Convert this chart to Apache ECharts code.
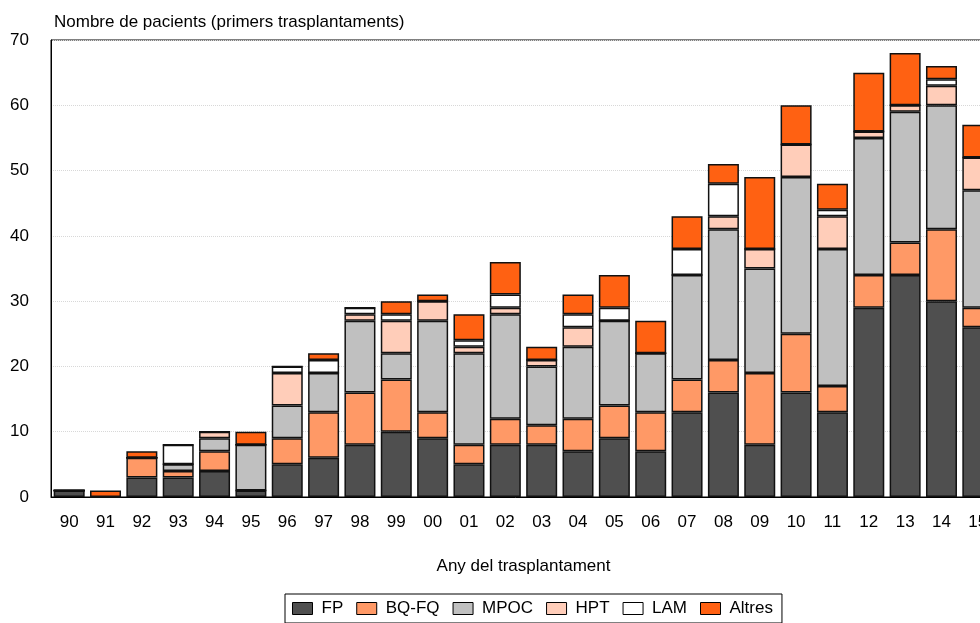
<!DOCTYPE html>
<html>
<head>
<meta charset="utf-8">
<script src="https://cdn.jsdelivr.net/npm/echarts@6/dist/echarts.min.js"></script>
<style>
html,body{margin:0;padding:0;background:#fff;}
#chart{width:980px;height:623px;}
</style>
</head>
<body>
<div id="chart"></div>
<script>
// anys del trasplantament
var years = ['90','91','92','93','94','95','96','97','98','99','00','01','02','03','04','05','06','07','08','09','10','11','12','13','14','15'];
var fp    = [1,0,3,3,4,1,5,6,8,10,9,5,8,8,7,9,7,13,16,8,16,13,29,34,30,26];
var bqfq  = [0,0,3,1,3,0,4,7,8,8,4,3,4,3,5,5,6,5,5,11,9,4,5,5,11,3];
var mpoc  = [0,0,0,1,2,7,5,6,11,4,14,14,16,9,11,13,9,16,20,16,24,21,21,20,19,18];
var hpt   = [0,0,0,0,1,0,5,0,1,5,3,1,1,1,3,0,0,0,2,3,5,5,1,1,3,5];
var lam   = [0,0,0,3,0,0,1,2,1,1,0,1,2,0,2,2,0,4,5,0,0,1,0,0,1,0];
var altres= [0,1,1,0,0,2,0,1,0,2,1,4,5,2,3,5,5,5,3,11,6,4,9,8,2,5];
var yTicks = [0,10,20,30,40,50,60,70];

var font = 'Liberation Sans, Arial, sans-serif';

function serie(name, data, color) {
    return {
        name: name,
        type: 'bar',
        stack: 'total',
        barWidth: 31,
        data: data,
        itemStyle: {
            color: color,
            borderColor: '#111',
            borderWidth: 1.5
        }
    };
}

var chart = echarts.init(document.getElementById('chart'));
var option = {
    animation: false,
    textStyle: {fontFamily: font},
    title: {
        text: 'Nombre de pacients (primers trasplantaments)',
        left: 49,
        top: 9,
        textStyle: {fontSize: 17, fontWeight: 'normal', color: '#000', fontFamily: font}
    },
    grid: {
        left: 51,
        right: -16,   // el gràfic original queda tallat per la dreta
        top: 40,
        bottom: 126,
        outerBoundsMode: 'none',
        show: true,
        borderColor: '#000',
        borderWidth: 1
    },
    legend: {
        left: 285,
        top: 594,
        padding: [6, 9, 6, 7],
        itemGap: 13,
        itemWidth: 20,
        itemHeight: 12,
        borderColor: '#000',
        borderWidth: 1,
        icon: 'rect',
        itemStyle: {borderColor: '#000', borderWidth: 1},
        textStyle: {fontSize: 17, color: '#000', fontFamily: font, padding: [0, 0, 0, 4]},
        data: ['FP', 'BQ-FQ', 'MPOC', 'HPT', 'LAM', 'Altres']
    },
    xAxis: {
        type: 'category',
        data: years,
        axisLine: {lineStyle: {color: '#000'}},
        axisTick: {show: false},
        axisLabel: {fontSize: 17, color: '#000', margin: 17, interval: 0},
        name: 'Any del trasplantament',
        nameLocation: 'middle',
        nameGap: 61,
        nameTextStyle: {fontSize: 17, color: '#000'}
    },
    yAxis: {
        type: 'value',
        min: yTicks[0],
        max: yTicks[yTicks.length - 1],
        interval: 10,
        axisLine: {show: true, lineStyle: {color: '#000'}},
        axisTick: {show: false},
        axisLabel: {fontSize: 17, color: '#000', margin: 22},
        splitLine: {lineStyle: {color: '#d8d8d8', type: 'dotted'}}
    },
    series: [
        serie('FP', fp, '#4f4f4f'),
        serie('BQ-FQ', bqfq, '#ff9966'),
        serie('MPOC', mpoc, '#c0c0c0'),
        serie('HPT', hpt, '#ffcdb9'),
        serie('LAM', lam, '#ffffff'),
        serie('Altres', altres, '#ff6112')
    ]
};
chart.setOption(option);
</script>
</body>
</html>
